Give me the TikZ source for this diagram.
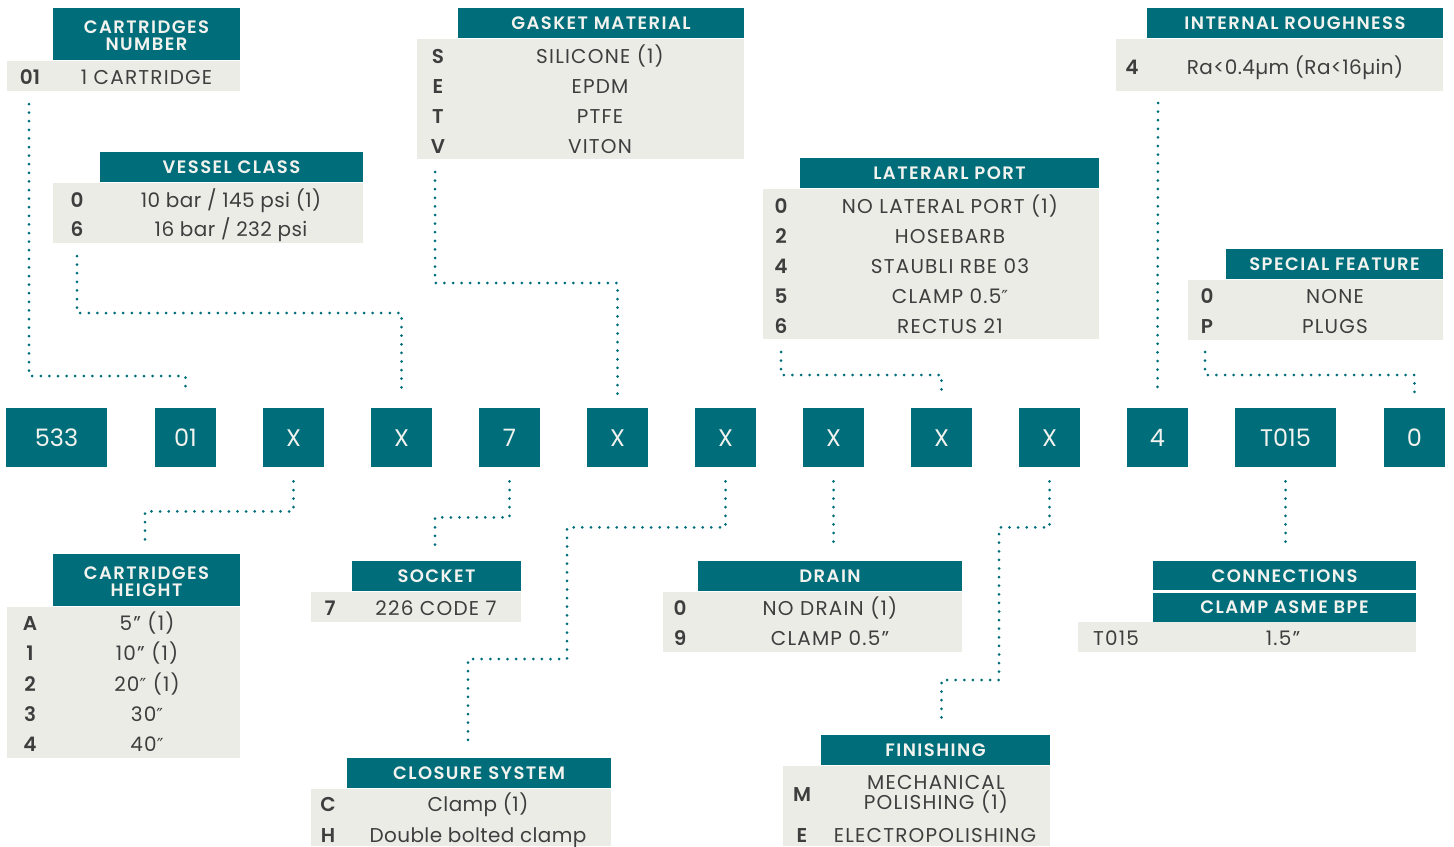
\documentclass[tikz,border=0pt]{standalone}
\usepackage{fontspec}
\setmainfont{Poppins}[BoldFont={Poppins SemiBold}]
\newfontfamily\symfont{DejaVu Sans}
\newcommand\dpr{{\symfont\fontsize{9}{9}\selectfont ″}}
\usetikzlibrary{positioning}
\definecolor{petrol}{RGB}{0,110,122}
\definecolor{paper}{RGB}{236,236,231}
\definecolor{ink}{RGB}{62,62,62}
\definecolor{chalk}{RGB}{242,242,238}

\tikzset{
  hd/.style={text=chalk, font=\fontsize{9}{8.5}\selectfont\bfseries\addfontfeature{LetterSpace=8}, inner sep=0pt, text height=6.3pt, text depth=0pt},
  hdtwo/.style={text=chalk, font=\fontsize{9}{8.5}\selectfont\bfseries\addfontfeature{LetterSpace=8}, inner sep=0pt, align=center},
  key/.style={text=ink, font=\fontsize{10}{10}\selectfont\bfseries, inner sep=0pt, text height=7pt, text depth=0pt},
  val/.style={text=ink, font=\fontsize{10}{10}\selectfont\addfontfeature{LetterSpace=6}, inner sep=0pt, text height=7pt, text depth=0pt},
  valmix/.style={val, font=\fontsize{10}{10}\selectfont\addfontfeature{LetterSpace=2}},
  valtwo/.style={text=ink, font=\fontsize{10}{10}\selectfont\addfontfeature{LetterSpace=6}, inner sep=0pt, align=center},
  codebox/.style={fill=petrol, text=chalk, minimum width=30.5pt, minimum height=29.5pt, inner sep=0pt,
    font=\fontsize{12}{12}\selectfont, text height=8.5pt, text depth=0pt},
  widebox/.style={codebox, minimum width=50.5pt},
  dots/.style={petrol, line width=1.5pt, line cap=round, dash pattern=on 0pt off 4.3pt},
}

\begin{document}
\begin{tikzpicture}[x=0.5pt, y=-0.5pt]
    \useasboundingbox (0,0) rectangle (1454,846);

    % Fila de codigos
    \node[widebox] (b533) at (56.5,437.5) {533};
    \node[codebox] (b01) at (185.5,437.5) {01};
    \node[codebox] (bx1) at (293.5,437.5) {X};
    \node[codebox] (bx2) at (401.5,437.5) {X};
    \node[codebox] (b7) at (509.5,437.5) {7};
    \node[codebox] (bx3) at (617.5,437.5) {X};
    \node[codebox] (bx4) at (725.5,437.5) {X};
    \node[codebox] (bx5) at (833.5,437.5) {X};
    \node[codebox] (bx6) at (941.5,437.5) {X};
    \node[codebox] (bx7) at (1049.5,437.5) {X};
    \node[codebox] (b4) at (1157.5,437.5) {4};
    \node[widebox] (bT) at (1285.5,437.5) {T015};
    \node[codebox] (b0) at (1414.5,437.5) {0};

    % Puntos de llegada encima y debajo de las casillas
    \coordinate (t01) at ([yshift=6.5pt]b01.north);
    \coordinate (tx2) at ([yshift=6.5pt]bx2.north);
    \coordinate (tx3) at ([yshift=6.5pt]bx3.north);
    \coordinate (tx6) at ([yshift=6.5pt]bx6.north);
    \coordinate (t4) at ([yshift=6.5pt]b4.north);
    \coordinate (t0) at ([yshift=6.5pt]b0.north);
    \coordinate (ux1) at ([yshift=-7pt]bx1.south);
    \coordinate (u7) at ([yshift=-7pt]b7.south);
    \coordinate (ux4) at ([yshift=-7pt]bx4.south);
    \coordinate (ux5) at ([yshift=-7pt]bx5.south);
    \coordinate (ux7) at ([yshift=-7pt]bx7.south);
    \coordinate (uT) at ([yshift=-7pt]bT.south);

    % Cartridges number
    \fill[petrol] (53,8) rectangle (240,60);
    \fill[paper] (7,61) rectangle (240,91);
    \node[hdtwo] (cnh) at (146.5,35.5) {CARTRIDGES\\NUMBER};
    \node[key] (cnk) at (30,77) {01};
    \node[val] (cnv) at (146.5,77) {1 CARTRIDGE};
    \coordinate (cnb) at (29,104);

    % Vessel class
    \fill[petrol] (100,152) rectangle (363,182);
    \fill[paper] (53,183) rectangle (363,243);
    \node[hd] (vch) at (231.5,167) {VESSEL CLASS};
    \node[key] (vck1) at (77,200) {0};
    \node[valmix] (vcv1) at (231,200) {10 bar / 145 psi (1)};
    \node[key] (vck2) at (77,229.5) {6};
    \node[valmix] (vcv2) at (231,229.5) {16 bar / 232 psi};
    \coordinate (vcb) at (77,256);

    % Gasket material
    \fill[petrol] (458,8) rectangle (744,38);
    \fill[paper] (417,39) rectangle (744,159);
    \node[hd] (gmh) at (601,23) {GASKET MATERIAL};
    \node[key] (gmk1) at (438,56) {S};
    \node[val] (gmv1) at (600,56) {SILICONE (1)};
    \node[key] (gmk2) at (438,86) {E};
    \node[val] (gmv2) at (600,86) {EPDM};
    \node[key] (gmk3) at (438,116) {T};
    \node[val] (gmv3) at (600,116) {PTFE};
    \node[key] (gmk4) at (438,146) {V};
    \node[val] (gmv4) at (600,146) {VITON};
    \coordinate (gmb) at (435,172);

    % Laterarl port
    \fill[petrol] (800,158) rectangle (1099,188);
    \fill[paper] (763,189) rectangle (1099,339);
    \node[hd] (lph) at (949.5,173) {LATERARL PORT};
    \node[key] (lpk1) at (781,206) {0};
    \node[val] (lpv1) at (950,206) {NO LATERAL PORT (1)};
    \node[key] (lpk2) at (781,236) {2};
    \node[val] (lpv2) at (950,236) {HOSEBARB};
    \node[key] (lpk3) at (781,266) {4};
    \node[val] (lpv3) at (950,266) {STAUBLI RBE 03};
    \node[key] (lpk4) at (781,296) {5};
    \node[val] (lpv4) at (950,296) {CLAMP 0.5\dpr};
    \node[key] (lpk5) at (781,326) {6};
    \node[val] (lpv5) at (950,326) {RECTUS 21};
    \coordinate (lpb) at (781,352);

    % Internal roughness
    \fill[petrol] (1147,8) rectangle (1443,38);
    \fill[paper] (1116,39) rectangle (1443,91);
    \node[hd] (irh) at (1295,23) {INTERNAL ROUGHNESS};
    \node[key] (irk) at (1132,67) {4};
    \node[valmix] (irv) at (1295,67) {Ra<0.4µm (Ra<16µin)};
    \coordinate (irb) at (1158,103);

    % Special feature
    \fill[petrol] (1226,249) rectangle (1443,279);
    \fill[paper] (1188,280) rectangle (1443,340);
    \node[hd] (sfh) at (1334.5,264) {SPECIAL FEATURE};
    \node[key] (sfk1) at (1207,296) {0};
    \node[val] (sfv1) at (1335,296) {NONE};
    \node[key] (sfk2) at (1207,326) {P};
    \node[val] (sfv2) at (1335,326) {PLUGS};
    \coordinate (sfb) at (1205,352);

    % Cartridges height
    \fill[petrol] (53,554) rectangle (240,606);
    \fill[paper] (7,607) rectangle (240,758);
    \node[hdtwo] (chh) at (146.5,581.5) {CARTRIDGES\\HEIGHT};
    \node[key] (chk1) at (30,623) {A};
    \node[val] (chv1) at (147,623) {5” (1)};
    \node[key] (chk2) at (30,653) {1};
    \node[val] (chv2) at (147,653) {10” (1)};
    \node[key] (chk3) at (30,684) {2};
    \node[val] (chv3) at (147,684) {20\dpr{} (1)};
    \node[key] (chk4) at (30,714) {3};
    \node[val] (chv4) at (147,714) {30\dpr};
    \node[key] (chk5) at (30,744) {4};
    \node[val] (chv5) at (147,744) {40\dpr};
    \coordinate (cht) at (145,541);

    % Socket
    \fill[petrol] (352,561) rectangle (521,591);
    \fill[paper] (311,592) rectangle (521,622);
    \node[hd] (soh) at (436.5,576) {SOCKET};
    \node[key] (sok) at (330,608) {7};
    \node[val] (sov) at (436,608) {226 CODE 7};
    \coordinate (sot) at (435,548);

    % Closure system
    \fill[petrol] (347,758) rectangle (611,788);
    \fill[paper] (311,789) rectangle (611,846);
    \node[hd] (csh) at (479,773) {CLOSURE SYSTEM};
    \node[key] (csk1) at (328,804) {C};
    \node[valmix] (csv1) at (478,804) {Clamp (1)};
    \node[key] (csk2) at (328,835) {H};
    \node[valmix] (csv2) at (478,835) {Double bolted clamp};
    \coordinate (cst) at (468,745);

    % Drain
    \fill[petrol] (698,561) rectangle (962,591);
    \fill[paper] (663,592) rectangle (962,652);
    \node[hd] (drh) at (830,576) {DRAIN};
    \node[key] (drk1) at (680,608) {0};
    \node[val] (drv1) at (830,608) {NO DRAIN (1)};
    \node[key] (drk2) at (680,638) {9};
    \node[val] (drv2) at (830,638) {CLAMP 0.5”};
    \coordinate (drt) at (833.5,548);

    % Finishing
    \fill[petrol] (821,735) rectangle (1050,765);
    \fill[paper] (783,766) rectangle (1050,846);
    \node[hd] (fih) at (935.5,750) {FINISHING};
    \node[key] (fik1) at (802,794) {M};
    \node[valtwo] (fiv1) at (936,794) {MECHANICAL\\POLISHING (1)};
    \node[key] (fik2) at (802,835) {E};
    \node[val] (fiv2) at (935,835) {ELECTROPOLISHING};
    \coordinate (fit) at (941.5,722);

    % Connections
    \fill[petrol] (1153,561) rectangle (1416,590);
    \fill[petrol] (1153,593) rectangle (1416,622);
    \fill[paper] (1078,622) rectangle (1416,652);
    \node[hd] (coh1) at (1284.5,576) {CONNECTIONS};
    \node[hd] (coh2) at (1284.5,607) {CLAMP ASME BPE};
    \node[val] (cok) at (1116,638) {T015};
    \node[val] (cov) at (1283,638) {1.5”};
    \coordinate (cot) at (1285.5,548);

    % Lineas de puntos
    \draw[dots] (cnb) -- ++(0,272) -| (t01);
    \draw[dots] (vcb) -- ++(0,57) -| (tx2);
    \draw[dots] (gmb) -- ++(0,111) -| (tx3);
    \draw[dots] (lpb) -- ++(0,23) -| (tx6);
    \draw[dots] (irb) -- (t4);
    \draw[dots] (sfb) -- ++(0,23) -| (t0);
    \draw[dots] (ux1) -- ++(0,30) -| (cht);
    \draw[dots] (u7) -- ++(0,36) -| (sot);
    \draw[dots] (ux4) -- ++(0,46) -| (567,659) -| (cst);
    \draw[dots] (ux5) -- (drt);
    \draw[dots] (ux7) -- ++(0,46) -| (999,680) -| (fit);
    \draw[dots] (uT) -- (cot);
\end{tikzpicture}
\end{document}
